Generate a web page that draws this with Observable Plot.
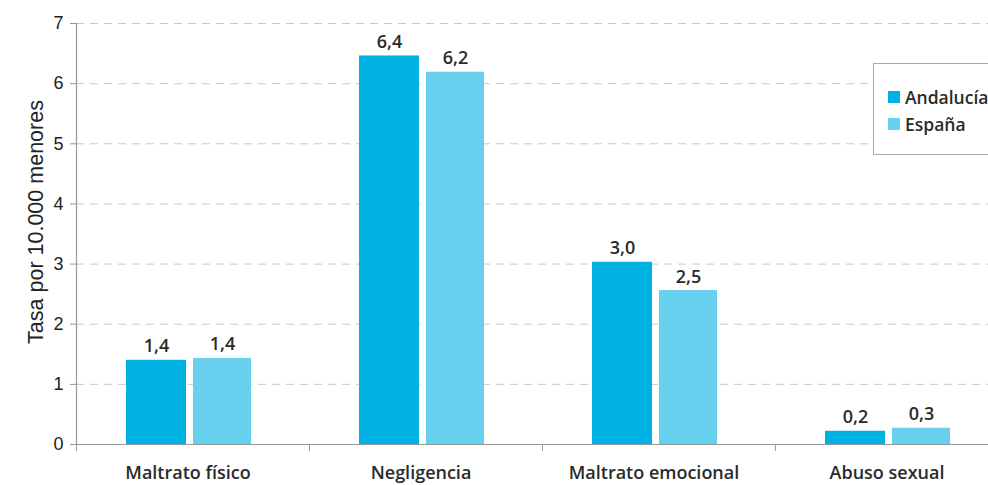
<!DOCTYPE html>
<html>
<head>
<meta charset="utf-8">
<script src="https://cdn.jsdelivr.net/npm/d3@7"></script>
<script src="https://cdn.jsdelivr.net/npm/@observablehq/plot@0.6"></script>
<style>
html, body { margin: 0; padding: 0; overflow: hidden; background: #fff; width: 988px; }
#wrap { position: relative; width: 988px; height: 485px; overflow: hidden; }
#legend { position: absolute; left: 873px; top: 63px; width: 140px; height: 92px; border: 1px solid #aaa; background: #fff; box-sizing: border-box; font-family: "Open Sans", sans-serif; font-weight: 600; font-size: 17.5px; color: #2a2a2a; }
#legend .item { position: absolute; left: 14px; display: flex; align-items: center; line-height: 20px; }
#legend .sw { width: 12px; height: 12px; margin-right: 5px; display: inline-block; }
</style>
</head>
<body>
<div id="wrap"><div id="chart"></div><div id="legend"></div></div>
<script>
const categories = ["Maltrato físico", "Negligencia", "Maltrato emocional", "Abuso sexual"];
const series = ["Andalucía", "España"];
const andalucia = [1.40, 6.46, 3.03, 0.22];
const espana = [1.43, 6.19, 2.56, 0.27];
const andaluciaLabels = ["1,4", "6,4", "3,0", "0,2"];
const espanaLabels = ["1,4", "6,2", "2,5", "0,3"];
const yTicks = [0, 1, 2, 3, 4, 5, 6, 7];
const yLabel = "Tasa por 10.000 menores";
const colors = ["#00b2e3", "#68d0ef"];

const rowsA = categories.map((c, i) => ({category: c, series: series[0], value: andalucia[i], label: andaluciaLabels[i]}));
const rowsE = categories.map((c, i) => ({category: c, series: series[1], value: espana[i], label: espanaLabels[i]}));

const left = 76, right = 1008;
const band = (right - left) / categories.length;

const valueFont = {fontFamily: "'Open Sans', sans-serif", fontWeight: 600, fontSize: 18, fill: "#2a2a2a"};

const chart = Plot.plot({
  width: 988,
  height: 485,
  marginLeft: left,
  marginRight: 0,
  marginTop: 23,
  marginBottom: 41,
  style: {fontFamily: "'Liberation Sans', Arial, sans-serif", color: "#333", background: "#fff"},
  x: {domain: categories, padding: 0, range: [left, right], axis: null},
  y: {domain: [0, 7], ticks: yTicks, axis: null},
  color: {domain: series, range: colors},
  marks: [
    Plot.gridY(yTicks.filter(d => d > 0), {stroke: "#c8c8c8", strokeOpacity: 1, strokeDasharray: "8,6", strokeWidth: 1}),
    Plot.barY(rowsA, {x: "category", y: "value", fill: "series", insetLeft: 50, insetRight: band - 110}),
    Plot.barY(rowsE, {x: "category", y: "value", fill: "series", insetLeft: 117, insetRight: band - 175}),
    Plot.text(rowsA, {x: "category", y: "value", text: "label", dx: 80 - band / 2, dy: -8, lineAnchor: "bottom", ...valueFont}),
    Plot.text(rowsE, {x: "category", y: "value", text: "label", dx: 146 - band / 2, dy: -8, lineAnchor: "bottom", ...valueFont}),
    Plot.ruleY([0], {stroke: "#999", strokeWidth: 1.2}),
    Plot.frame({anchor: "left", stroke: "#999", strokeWidth: 1.2}),
    Plot.axisY({ticks: yTicks, tickFormat: "d", tickSize: 6, tickPadding: 7, stroke: "#999", fontSize: 18, fill: "#222", label: null}),
    Plot.text([yLabel], {frameAnchor: "left", rotate: -90, dx: -40, dy: -12, fontSize: 21.5, fill: "#222", textAnchor: "middle"}),
    Plot.axisX({tickSize: 7, text: null, dx: -band / 2, stroke: "#999", label: null}),
    Plot.axisX({tickSize: 0, tickPadding: 22, dx: -5, fontFamily: "'Open Sans', sans-serif", fontWeight: 600, fontSize: 18, fill: "#2a2a2a", label: null})
  ]
});
document.getElementById("chart").appendChild(chart);

const legend = document.getElementById("legend");
series.forEach((s, i) => {
  const item = document.createElement("div");
  item.className = "item";
  item.style.top = (i === 0 ? 23 : 50) + "px";
  const sw = document.createElement("span");
  sw.className = "sw";
  sw.style.background = colors[i];
  const t = document.createElement("span");
  t.textContent = s;
  item.appendChild(sw);
  item.appendChild(t);
  legend.appendChild(item);
});
</script>
</body>
</html>
